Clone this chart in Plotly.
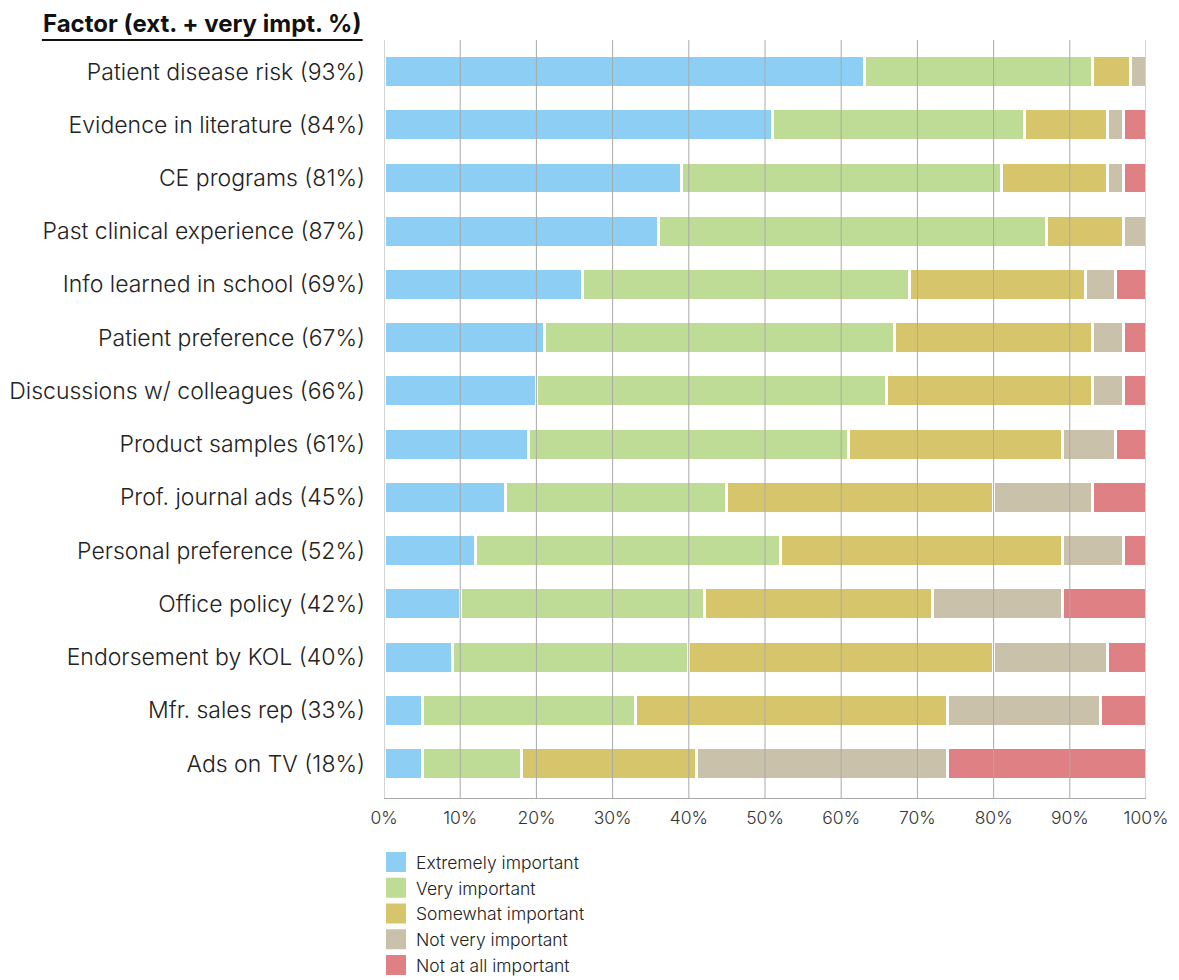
import plotly.graph_objects as go

# Survey: importance of factors when choosing a treatment (% of respondents)
factors = [
    "Patient disease risk", "Evidence in literature", "CE programs",
    "Past clinical experience", "Info learned in school", "Patient preference",
    "Discussions w/ colleagues", "Product samples", "Prof. journal ads",
    "Personal preference", "Office policy", "Endorsement by KOL",
    "Mfr. sales rep", "Ads on TV",
]
extremely = [63, 51, 39, 36, 26, 21, 20, 19, 16, 12, 10, 9, 5, 5]
very = [30, 33, 42, 51, 43, 46, 46, 42, 29, 40, 32, 31, 28, 13]
somewhat = [5, 11, 14, 10, 23, 26, 27, 28, 35, 37, 30, 40, 41, 23]
not_very = [2, 2, 2, 3, 4, 4, 4, 7, 13, 8, 17, 15, 20, 33]
not_at_all = [0, 3, 3, 0, 4, 3, 3, 4, 7, 3, 11, 5, 6, 26]

series_names = ["Extremely important", "Very important", "Somewhat important",
                "Not very important", "Not at all important"]
series_values = [extremely, very, somewhat, not_very, not_at_all]
series_colors = ["#8dcff4", "#bfdc97", "#d7c56c", "#c9c1aa", "#df8084"]

tick_vals = [0, 10, 20, 30, 40, 50, 60, 70, 80, 90, 100]
tick_text = [f"{v}%" for v in tick_vals]

# Category labels carry the combined "extremely + very important" share
labels = [f"{f} ({e + v}%)" for f, e, v in zip(factors, extremely, very)]

FONT = "Inter, Roboto, Liberation Sans, sans-serif"

fig = go.Figure()
for name, vals, color in zip(series_names, series_values, series_colors):
    fig.add_trace(go.Bar(
        y=labels, x=vals, orientation="h", name=name,
        marker=dict(color=color, line=dict(color="white", width=3)),
        width=0.6, showlegend=False, hoverinfo="x+name",
    ))
    # legend swatch entry
    fig.add_trace(go.Scatter(
        x=[None], y=[None], mode="markers", name=name,
        marker=dict(symbol="square", size=16, color=color,
                    line=dict(color=color, width=4)),
        showlegend=True,
    ))

# vertical grid drawn over the bars
shapes = [
    dict(type="line", xref="x", yref="paper", x0=v, x1=v, y0=0, y1=1,
         line=dict(color="#a9a9a9", width=1), layer="above")
    for v in tick_vals
]
# underline of the column heading
shapes.append(dict(type="line", xref="paper", yref="paper",
                   x0=-0.449, x1=-0.028, y0=1.0, y1=1.0,
                   line=dict(color="#111111", width=2)))

fig.update_layout(
    width=1179, height=980,
    margin=dict(l=384, r=33, t=40, b=182, autoexpand=False),
    paper_bgcolor="white", plot_bgcolor="white",
    barmode="stack",
    font=dict(family=FONT, color="#222222", weight=300),
    shapes=shapes,
    annotations=[dict(
        text="Factor (ext. + very impt. %)", xref="paper", yref="paper",
        x=-0.028, y=1.022, xanchor="right", yanchor="middle", showarrow=False,
        font=dict(family=FONT, size=24, color="#111111", weight=700),
    )],
    legend=dict(
        x=-0.0105, y=-0.061, xanchor="left", yanchor="top",
        orientation="v", itemsizing="trace", traceorder="normal",
        font=dict(family=FONT, size=17.5, color="#222222", weight=300),
        bgcolor="rgba(0,0,0,0)",
    ),
    xaxis=dict(
        range=[0, 100], tickvals=tick_vals, ticktext=tick_text,
        showgrid=False, zeroline=False, showline=True,
        linecolor="#a9a9a9", linewidth=1, ticks="", ticklabelstandoff=4,
        tickfont=dict(family=FONT, size=17.5, color="#333333", weight=300),
        fixedrange=True,
    ),
    yaxis=dict(
        type="category", categoryorder="array", categoryarray=labels,
        range=[13.648, -0.592], showgrid=False, zeroline=False,
        showline=False, ticks="", ticklabelstandoff=18,
        tickfont=dict(family=FONT, size=23, color="#222222", weight=300),
        fixedrange=True,
    ),
)

fig.write_html("out.html")
